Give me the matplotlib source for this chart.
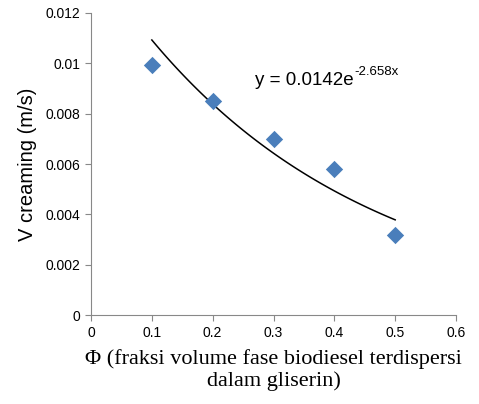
import numpy as np
import matplotlib
matplotlib.use("Agg")
import matplotlib.pyplot as plt

phi = [0.1, 0.2, 0.3, 0.4, 0.5]
v_cream = [0.00995, 0.0085, 0.0070, 0.0058, 0.0032]

# exponential trendline fitted to the points (like Excel)
b, ln_a = np.polyfit(phi, np.log(v_cream), 1)
xf = np.linspace(min(phi), max(phi), 100)
yf = np.exp(ln_a) * np.exp(b * xf)

fig = plt.figure(figsize=(4.79, 4.04), dpi=100)
ax = fig.add_axes([0.190, 0.220, 0.762, 0.748])

ax.plot(xf, yf, color="black", lw=1.1, zorder=2)
ax.scatter(phi, v_cream, marker="D", s=78, color="#4A7EBB", zorder=3, linewidths=0)

eq = ax.text(0.27, 0.0093, "y = 0.0142e", fontsize=13.5,
             family="Liberation Sans", va="center")
ax.annotate("-2.658x", xy=(1, 0.7), xycoords=eq, fontsize=9.5,
            family="Liberation Sans", va="bottom", ha="left")

ax.set_xlim(0, 0.6)
ax.set_ylim(0, 0.012)
ax.set_xticks(np.arange(0, 0.61, 0.1))
ax.set_xticklabels(["0", "0.1", "0.2", "0.3", "0.4", "0.5", "0.6"])
ax.set_yticks(np.arange(0, 0.0121, 0.002))
ax.set_yticklabels(["0", "0.002", "0.004", "0.006", "0.008", "0.01", "0.012"])

for s in ["top", "right"]:
    ax.spines[s].set_visible(False)
for s in ["left", "bottom"]:
    ax.spines[s].set_color("#888888")
ax.tick_params(colors="#888888", labelcolor="black", length=4, labelsize=10)
for lab in ax.get_xticklabels() + ax.get_yticklabels():
    lab.set_family("Liberation Sans")

ax.set_ylabel("V creaming (m/s)", fontsize=14.5, family="Liberation Sans", labelpad=6)
ax.set_xlabel("\u03a6 (fraksi volume fase biodiesel terdispersi\ndalam gliserin)",
              fontsize=16, family="Liberation Serif", linespacing=1.15, labelpad=7)

plt.savefig("out.png", dpi=100)
